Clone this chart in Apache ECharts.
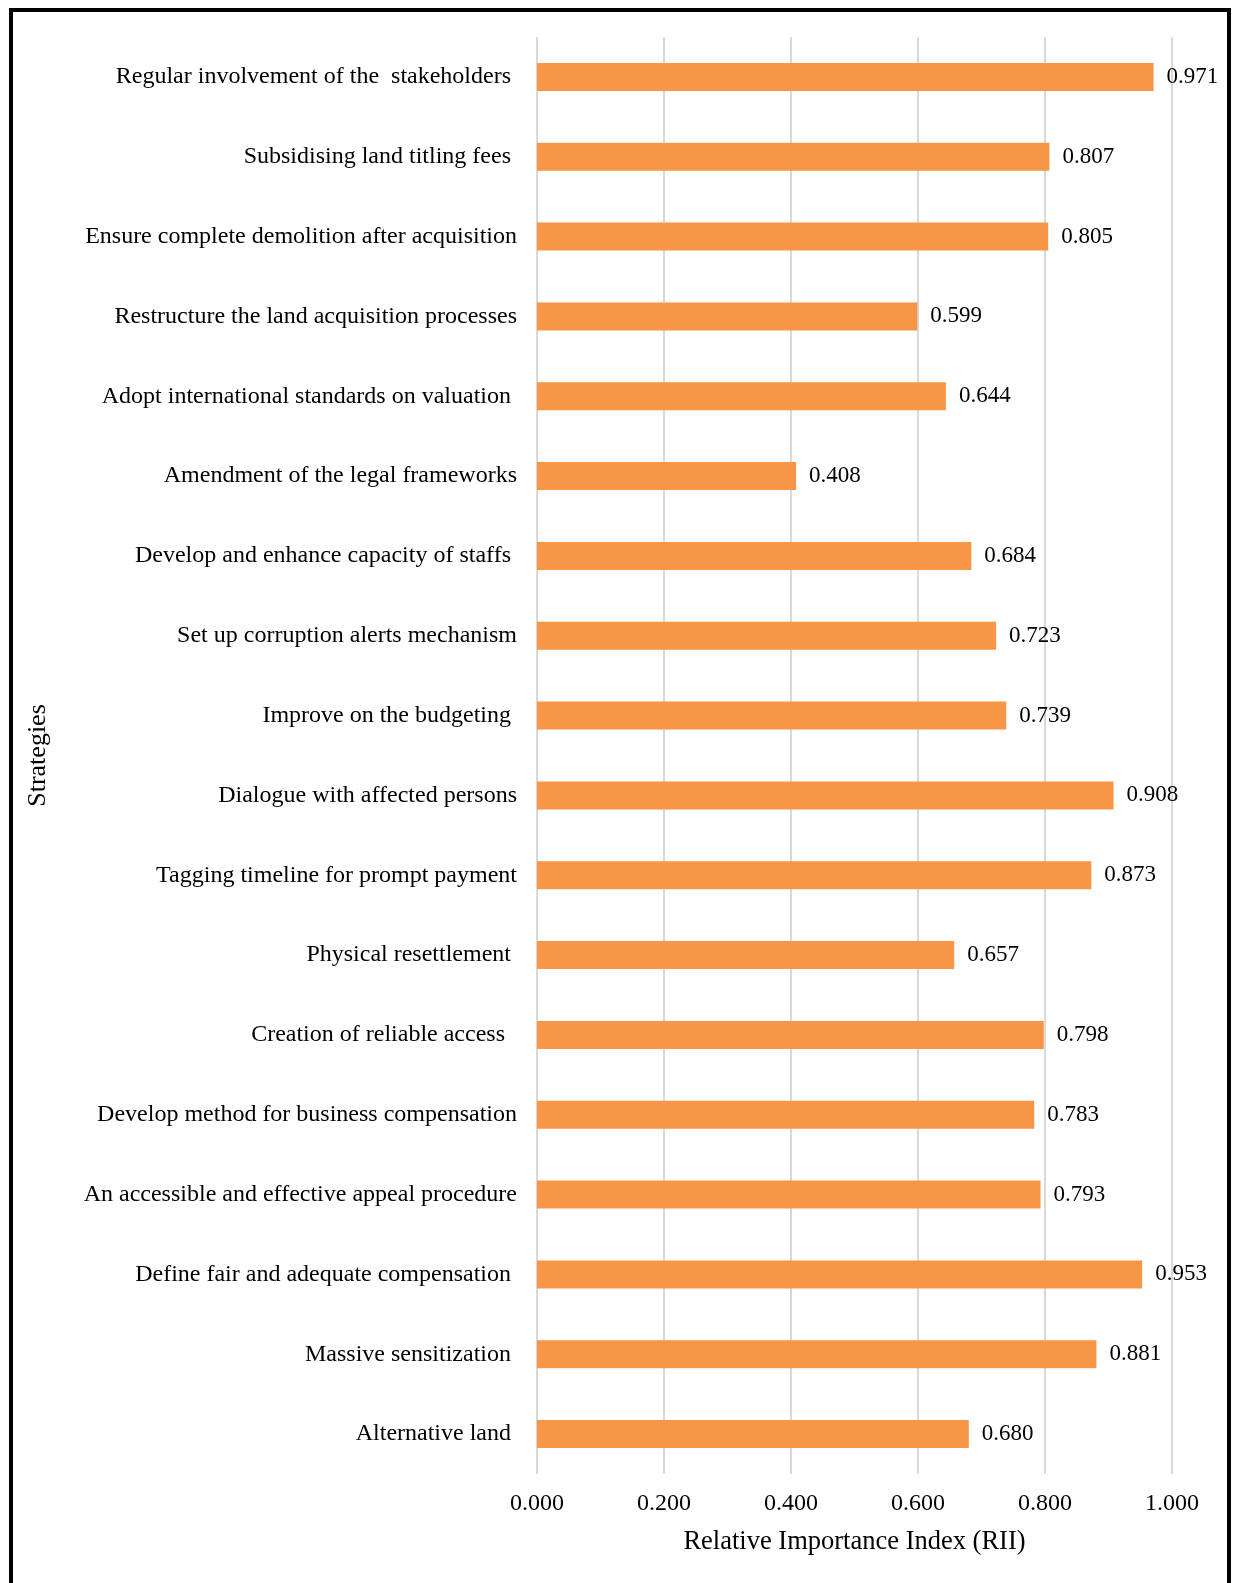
<!DOCTYPE html>
<html>
<head>
<meta charset="utf-8">
<script src="https://cdn.jsdelivr.net/npm/echarts@6/dist/echarts.min.js"></script>
<style>
    body { margin: 0; background: #fff; }
    #chart { position: absolute; left: 0; top: 0; width: 1235px; height: 1583px; }
    #frame { position: absolute; left: 9px; top: 8px; width: 1214px; height: 1600px;
             border: 4px solid #000; border-bottom: none; pointer-events: none; }
</style>
</head>
<body>
<div id="chart"></div>
<div id="frame"></div>
<script>
// strategies, top to bottom as in the figure
let strategies = [
    'Regular involvement of the  stakeholders ',
    'Subsidising land titling fees ',
    'Ensure complete demolition after acquisition',
    'Restructure the land acquisition processes',
    'Adopt international standards on valuation ',
    'Amendment of the legal frameworks',
    'Develop and enhance capacity of staffs ',
    'Set up corruption alerts mechanism',
    'Improve on the budgeting ',
    'Dialogue with affected persons',
    'Tagging timeline for prompt payment',
    'Physical resettlement ',
    'Creation of reliable access  ',
    'Develop method for business compensation',
    'An accessible and effective appeal procedure',
    'Define fair and adequate compensation ',
    'Massive sensitization ',
    'Alternative land '
];

// RII values
let rii = [0.971, 0.807, 0.805, 0.599, 0.644, 0.408, 0.684, 0.723, 0.739,
           0.908, 0.873, 0.657, 0.798, 0.783, 0.793, 0.953, 0.881, 0.680];

let xMin = 0;
let xMax = 1;
let xStep = 0.2;

let font = '"Liberation Serif", "DejaVu Serif", serif';

let myChart = echarts.init(document.getElementById('chart'));

let option = {
    animation: false,
    textStyle: { fontFamily: font, color: '#000' },
    grid: {
        left: 537,
        right: 63,
        top: 37,
        bottom: 109
    },
    xAxis: {
        type: 'value',
        min: xMin,
        max: xMax,
        interval: xStep,
        name: 'Relative Importance Index (RII)',
        nameLocation: 'middle',
        nameGap: 55,
        nameTextStyle: { fontFamily: font, fontSize: 26.5, color: '#000' },
        axisLine: { show: false },
        axisTick: { show: false },
        axisLabel: {
            margin: 18,
            fontFamily: font,
            fontSize: 24,
            color: '#000',
            formatter: function (v) { return v.toFixed(3); }
        },
        splitLine: { show: true, lineStyle: { color: '#d9d9d9', width: 2 } }
    },
    yAxis: {
        type: 'category',
        inverse: true,
        data: strategies,
        name: 'Strategies',
        nameLocation: 'middle',
        nameRotate: 90,
        nameGap: 486,
        nameTextStyle: { fontFamily: font, fontSize: 26, color: '#000' },
        axisLine: { show: false },
        axisTick: { show: false },
        axisLabel: {
            margin: 20,
            fontFamily: font,
            fontSize: 24,
            color: '#000'
        },
        splitLine: { show: false }
    },
    series: [
        {
            name: 'RII',
            type: 'bar',
            barWidth: 28,
            itemStyle: { color: '#f79646' },
            label: {
                show: true,
                position: 'right',
                distance: 13,
                fontFamily: font,
                fontSize: 23,
                color: '#000',
                formatter: function (p) { return p.value.toFixed(3); }
            },
            data: rii
        }
    ]
};

myChart.setOption(option);
</script>
</body>
</html>
